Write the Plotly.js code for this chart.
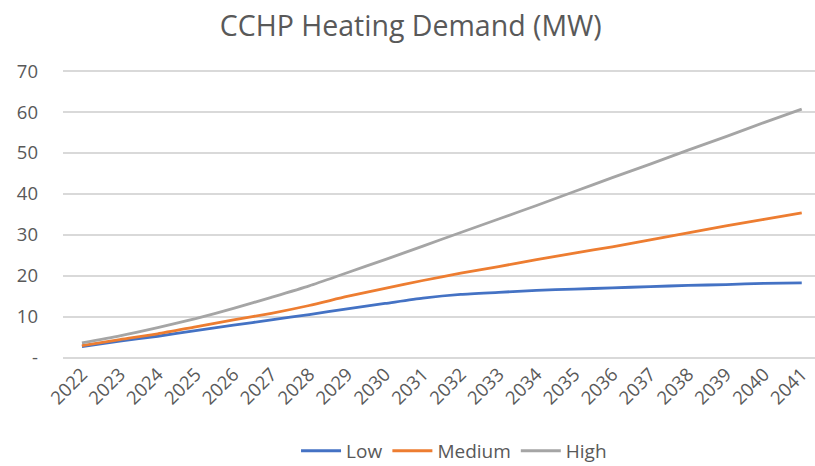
<!DOCTYPE html>
<html>
<head>
<meta charset="utf-8">
<script src="https://cdn.plot.ly/plotly-3.0.1.min.js"></script>
<style>html,body{margin:0;padding:0;background:#fff;}#chart{width:815px;height:466px;}</style>
</head>
<body>
<div id="chart"></div>
<script>
const years = ['2022','2023','2024','2025','2026','2027','2028','2029','2030','2031','2032','2033','2034','2035','2036','2037','2038','2039','2040','2041'];
const low = [2.8,4.1,5.3,6.7,8.0,9.3,10.6,12.0,13.3,14.6,15.5,16.0,16.5,16.8,17.1,17.4,17.7,17.9,18.2,18.3];
const medium = [3.0,4.5,5.9,7.6,9.3,10.9,12.8,15.0,17.0,18.9,20.7,22.3,24.0,25.6,27.1,28.8,30.5,32.2,33.8,35.4];
const high = [3.7,5.4,7.4,9.6,12.1,14.8,17.6,20.8,24.0,27.3,30.6,33.9,37.2,40.6,44.0,47.3,50.7,54.0,57.4,60.7];
const yTickVals = [0,10,20,30,40,50,60,70];
const yTickText = ['-','10','20','30','40','50','60','70'];

const font = 'Open Sans, sans-serif';
const textColor = '#595959';
function series(name, y, color) {
  return {type:'scatter', mode:'lines', name:name, x:years, y:y,
    line:{color:color, width:2.8, shape:'spline', smoothing:0.6}, hoverinfo:'skip'};
}
const data = [
  series('Low', low, '#4472C4'),
  series('Medium', medium, '#ED7D31'),
  series('High', high, '#A5A5A5')
];
const layout = {
  width:815, height:466,
  margin:{l:63, r:0, t:70, b:107, autoexpand:false},
  paper_bgcolor:'#fff', plot_bgcolor:'#fff',
  font:{family:font, color:textColor, size:18},
  title:{text:'CCHP Heating Demand (MW)', font:{family:font, size:28.5, color:textColor},
    x:0.504, xref:'container', xanchor:'center', y:0.944, yref:'container', yanchor:'middle'},
  xaxis:{type:'category', range:[-0.5,19.35], showgrid:false, zeroline:false, showline:false, automargin:false,
    tickangle:-45, ticks:'', tickfont:{family:font, size:18.5, color:textColor}, fixedrange:true},
  yaxis:{range:[-0.25,70.25], tickvals:yTickVals, ticktext:yTickText, showgrid:true, gridcolor:'#D9D9D9', gridwidth:1.6,
    zeroline:false, showline:false, ticks:'', ticklabelstandoff:24, automargin:false,
    tickfont:{family:font, size:18.5, color:textColor}, fixedrange:true},
  showlegend:true,
  legend:{orientation:'h', x:0.52, xanchor:'center', y:-0.318, yanchor:'middle',
    font:{family:font, size:19, color:textColor}, itemwidth:40, traceorder:'normal'}
};
Plotly.newPlot('chart', data, layout, {displayModeBar:false, staticPlot:true});
</script>
</body>
</html>
